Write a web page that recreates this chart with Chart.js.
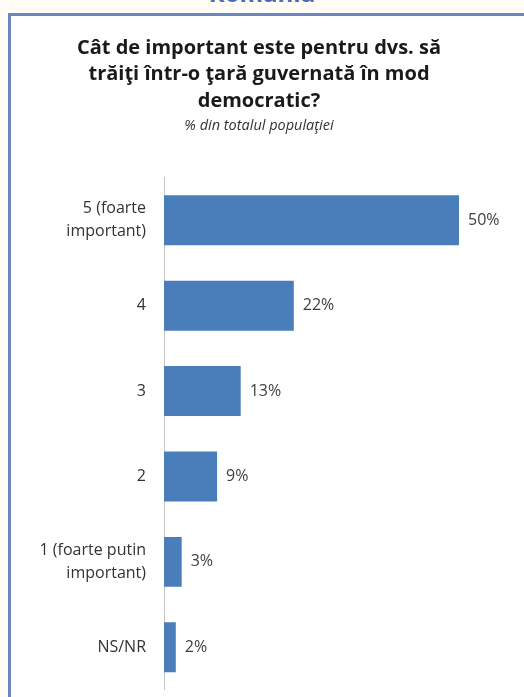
<!DOCTYPE html>
<html>
<head>
<meta charset="utf-8">
<script src="https://cdn.jsdelivr.net/npm/chart.js@4.4.1/dist/chart.umd.min.js"></script>
<style>
  html, body { margin:0; padding:0; background:#fffdf6; width:524px; height:697px; overflow:hidden; }
  #frame { position:absolute; left:8px; top:13px; width:516px; height:700px; background:#ffffff;
           border-left:3px solid #6d88c0; border-top:3px solid #6d88c0; box-sizing:border-box; }
  #country { position:absolute; left:0; width:524px; top:-24px; text-align:center;
             font-family:"Open Sans", sans-serif; font-weight:bold; font-size:24px; color:#4a6cb3; }
  #wrap { position:absolute; left:0; top:0; width:524px; height:697px; overflow:hidden; }
</style>
</head>
<body>
<div id="country">România</div>
<div id="frame"></div>
<div id="wrap"><canvas id="c" width="524" height="713"></canvas></div>
<script>
const categories = [["5 (foarte","important)"], "4", "3", "2", ["1 (foarte putin","important)"], "NS/NR"];
const values = [50, 22, 13, 9, 3, 2];
const valueLabels = ["50%", "22%", "13%", "9%", "3%", "2%"];
const titleLines = ["Cât de important este pentru dvs. să", "trăiţi într-o ţară guvernată în mod", "democratic?"];
const subtitleText = "% din totalul populaţiei";

const barLabels = {
  id: 'barLabels',
  afterDatasetsDraw(chart) {
    const ctx = chart.ctx;
    const meta = chart.getDatasetMeta(0);
    ctx.save();
    ctx.font = '16px "Open Sans", sans-serif';
    ctx.fillStyle = '#404040';
    ctx.textAlign = 'left';
    ctx.textBaseline = 'middle';
    meta.data.forEach((bar, i) => {
      ctx.fillText(valueLabels[i], bar.x + 9, bar.y);
    });
    ctx.restore();
  }
};

new Chart(document.getElementById('c'), {
  type: 'bar',
  data: {
    labels: categories,
    datasets: [{
      data: values,
      backgroundColor: '#4a7ebb',
      borderWidth: 0,
      categoryPercentage: 1.0,
      barPercentage: 0.585
    }]
  },
  options: {
    indexAxis: 'y',
    responsive: false,
    animation: false,
    layout: { padding: { top: 30, right: 6, bottom: 0, left: 0 } },
    plugins: {
      legend: { display: false },
      tooltip: { enabled: false },
      title: {
        display: true,
        text: titleLines,
        color: '#1a1a1a',
        font: { family: '"Open Sans", sans-serif', size: 20, weight: 'bold', lineHeight: 1.32 },
        padding: { top: 5, bottom: 3 }
      },
      subtitle: {
        display: true,
        text: subtitleText,
        color: '#333333',
        font: { family: '"Open Sans", sans-serif', size: 14.5, style: 'italic', lineHeight: 1.2 },
        padding: { top: 0, bottom: 43 }
      }
    },
    scales: {
      x: {
        display: false,
        min: 0,
        max: 60
      },
      y: {
        grid: { display: true, drawOnChartArea: false, drawTicks: true, tickLength: 18, color: 'rgba(0,0,0,0)' },
        border: { display: true, color: '#c4c4c4', width: 1 },
        ticks: {
          color: '#333333',
          font: { family: '"Open Sans", sans-serif', size: 16, lineHeight: 1.44 },
          padding: 0
        },
        afterFit(scale) { scale.width = 164; }
      }
    }
  },
  plugins: [barLabels]
});
</script>
</body>
</html>
